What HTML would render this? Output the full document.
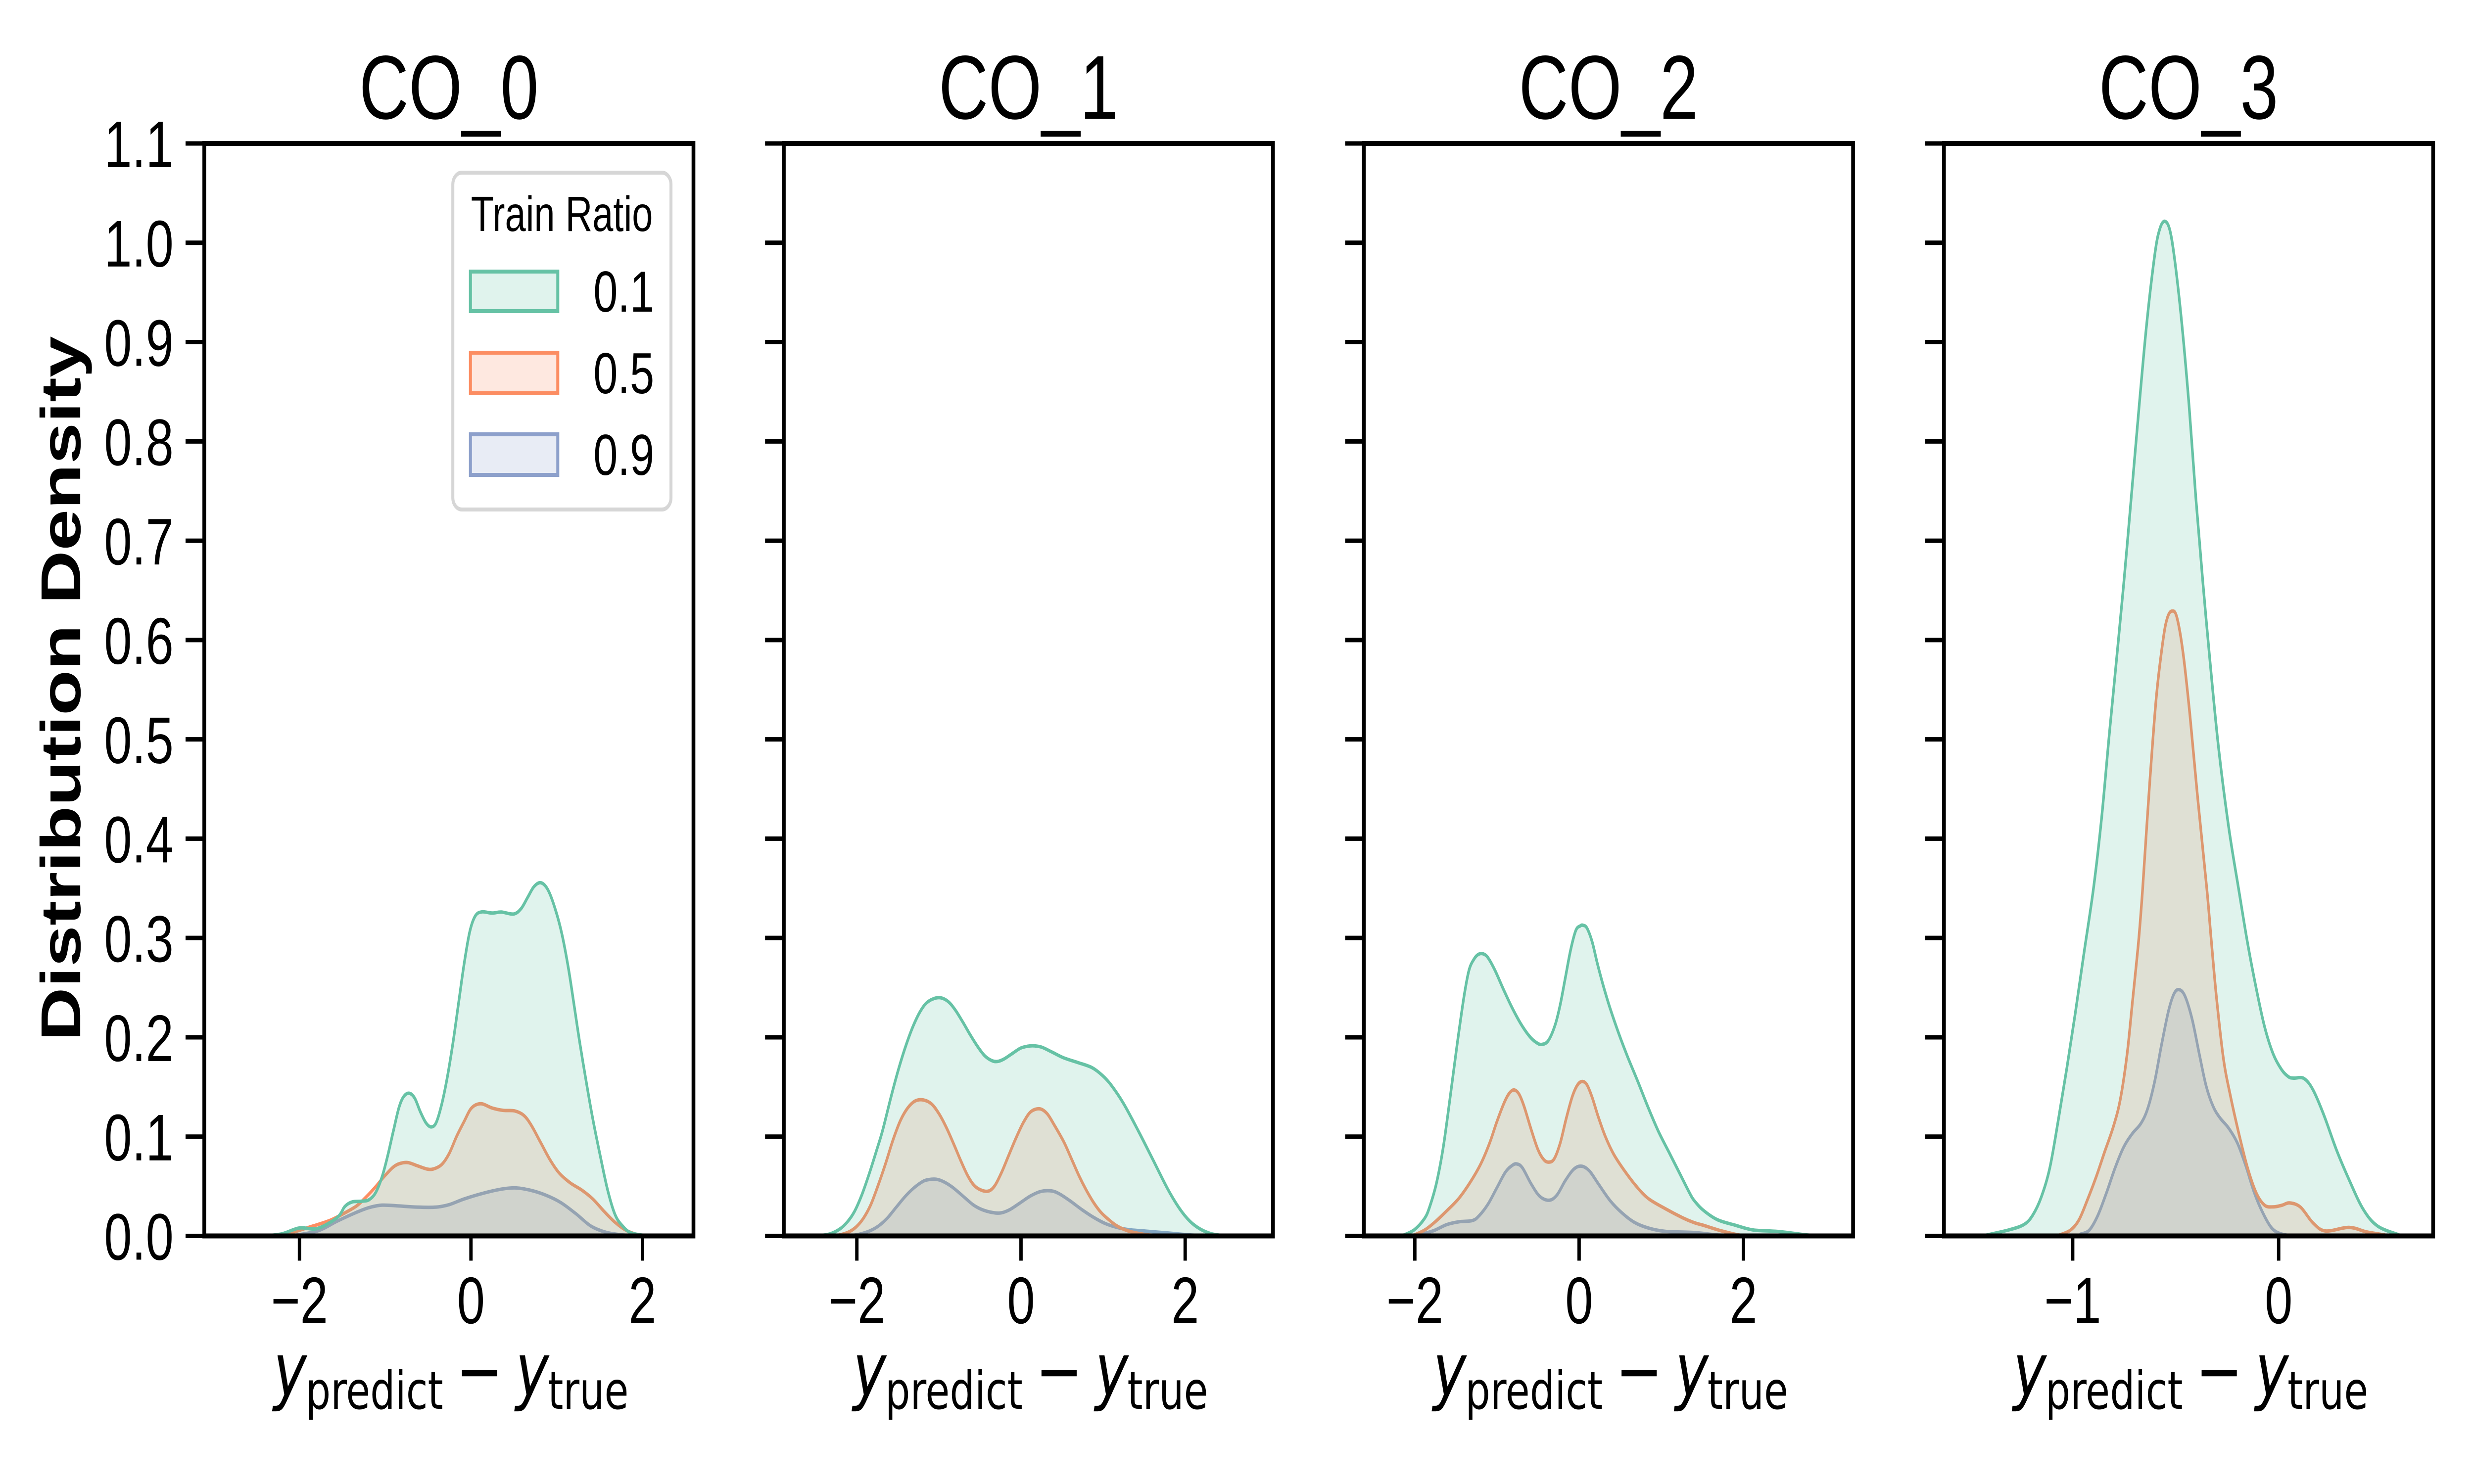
<!DOCTYPE html>
<html lang="en">
<head>
<meta charset="utf-8">
<title>Distribution Density by CO</title>
<style>
html,body{margin:0;padding:0;background:#fff;width:100%;height:100%;overflow:hidden;}
svg{display:block;width:100vw;height:100vh;}
text{fill:#000;font-family:"Liberation Sans",Arial,sans-serif;}
.math{font-family:"DejaVu Sans",sans-serif;}
</style>
</head>
<body>
<svg id="figure" xmlns="http://www.w3.org/2000/svg" viewBox="0 0 6600 3000" preserveAspectRatio="none">
  <rect x="0" y="0" width="6600" height="3000" fill="#fff"/>
  <g id="panels"></g>
  <text transform="translate(214,1392) rotate(-90)" text-anchor="middle" font-size="150" font-weight="bold">Distribution Density</text>
  <g>
    <rect x="1208" y="349" width="582" height="681" rx="24" ry="24" fill="#fff" stroke="#d6d6d6" stroke-width="8"/>
    <text x="1499" y="467" text-anchor="middle" font-size="100">Train Ratio</text>
    <rect x="1255" y="549" width="233" height="80" fill="#66c2a5" fill-opacity="0.2" stroke="#66c2a5" stroke-width="8"/>
    <text x="1583" y="630" font-size="116.7">0.1</text>
    <rect x="1255" y="713" width="233" height="82" fill="#fc8d62" fill-opacity="0.2" stroke="#fc8d62" stroke-width="8"/>
    <text x="1583" y="795" font-size="116.7">0.5</text>
    <rect x="1255" y="878" width="233" height="82" fill="#8da0cb" fill-opacity="0.2" stroke="#8da0cb" stroke-width="8"/>
    <text x="1583" y="960" font-size="116.7">0.9</text>
  </g>
</svg>
<script>
// ---------- data (x = prediction error, y = density) ----------
const yTickLabels = ["0.0","0.1","0.2","0.3","0.4","0.5","0.6","0.7","0.8","0.9","1.0","1.1"];
const yTickValues = [0,0.1,0.2,0.3,0.4,0.5,0.6,0.7,0.8,0.9,1.0,1.1];
const panelTitles = ["CO_0","CO_1","CO_2","CO_3"];
const seriesRatios = ["0.1","0.5","0.9"];
const seriesColors = ["#66c2a5","#fc8d62","#8da0cb"];
const xTicks012 = [-2,0,2];
const xTicks3 = [-1,0];

// CO_0
const co0X01 = [-2.42,-2.21,-2.00,-1.79,-1.56,-1.47,-1.385,-1.276,-1.19,-1.113,-1.037,-0.972,-0.906,-0.841,-0.787,-0.722,-0.656,-0.591,-0.526,-0.465,-0.406,-0.341,-0.276,-0.21,-0.145,-0.08,-0.015,0.05,0.127,0.246,0.355,0.497,0.584,0.66,0.736,0.817,0.9,0.986,1.062,1.138,1.204,1.269,1.345,1.421,1.508,1.595,1.682,1.769,1.852,1.98,2.14];
const co0Y01 = [0,0.002,0.008,0.0075,0.0186,0.0297,0.0342,0.0349,0.0364,0.0434,0.0595,0.0805,0.1053,0.1288,0.14,0.1437,0.1387,0.1251,0.114,0.1098,0.114,0.1326,0.1598,0.1945,0.2341,0.2738,0.306,0.3221,0.3263,0.3251,0.3261,0.3241,0.3295,0.3407,0.3518,0.3556,0.3481,0.3283,0.3035,0.2688,0.2317,0.1945,0.1549,0.1177,0.0805,0.0458,0.0211,0.0099,0.0037,0.001,0];
const co0X05 = [-2.21,-1.89,-1.68,-1.56,-1.342,-1.233,-1.124,-1.015,-0.906,-0.82,-0.732,-0.624,-0.515,-0.439,-0.341,-0.254,-0.167,-0.08,0.007,0.116,0.247,0.377,0.508,0.616,0.703,0.812,0.921,1.03,1.16,1.29,1.421,1.552,1.682,1.813,1.98];
const co0Y05 = [0,0.0087,0.0145,0.0191,0.0297,0.0384,0.0483,0.0595,0.0694,0.0731,0.0738,0.0706,0.0674,0.0674,0.0719,0.083,0.1003,0.1152,0.1288,0.1331,0.1288,0.1264,0.1259,0.1214,0.1115,0.0942,0.0768,0.0632,0.0533,0.0463,0.0372,0.0248,0.0136,0.0055,0];
const co0X09 = [-2.10,-1.79,-1.56,-1.342,-1.19,-1.037,-0.841,-0.624,-0.406,-0.254,-0.08,0.138,0.355,0.529,0.703,0.877,1.051,1.225,1.399,1.573,1.747,1.92];
const co0Y09 = [0,0.005,0.0149,0.0235,0.0285,0.031,0.0302,0.029,0.029,0.0315,0.0372,0.0429,0.0471,0.0483,0.0458,0.0409,0.0334,0.0223,0.0099,0.0037,0.0012,0];

// CO_1
const co1X01 = [-2.48,-2.33,-2.209,-2.119,-2.029,-1.939,-1.848,-1.758,-1.686,-1.578,-1.487,-1.397,-1.307,-1.217,-1.126,-1,-0.892,-0.801,-0.711,-0.621,-0.531,-0.44,-0.35,-0.283,-0.206,-0.116,-0.007,0.083,0.155,0.253,0.379,0.523,0.704,0.866,0.993,1.101,1.245,1.426,1.607,1.787,1.931,2.058,2.184,2.329,2.509];
const co1Y01 = [0,0.002,0.0069,0.0138,0.0246,0.0414,0.063,0.0866,0.1063,0.1418,0.1694,0.193,0.2127,0.2275,0.2363,0.2399,0.2363,0.2275,0.2156,0.2028,0.191,0.1812,0.1763,0.1757,0.1782,0.1831,0.189,0.191,0.1914,0.19,0.1851,0.1792,0.1743,0.1694,0.1615,0.1516,0.1339,0.1063,0.0768,0.0473,0.0276,0.0148,0.0069,0.002,0];
const co1X05 = [-2.30,-2.209,-2.101,-2.011,-1.921,-1.83,-1.74,-1.65,-1.56,-1.469,-1.379,-1.289,-1.19,-1.09,-1,-0.91,-0.82,-0.729,-0.639,-0.549,-0.422,-0.332,-0.242,-0.152,-0.061,0.029,0.119,0.227,0.318,0.408,0.523,0.614,0.704,0.794,0.885,0.975,1.065,1.155,1.245,1.354,1.516,1.697];
const co1Y05 = [0,0.001,0.0039,0.0089,0.0177,0.0315,0.0512,0.0729,0.0965,0.1162,0.129,0.1359,0.1369,0.1329,0.1231,0.1093,0.0926,0.0748,0.0591,0.0492,0.0449,0.0492,0.063,0.0807,0.0985,0.1142,0.125,0.128,0.1231,0.1113,0.0945,0.0778,0.061,0.0463,0.0335,0.0236,0.0167,0.0108,0.0069,0.0039,0.0014,0];
const co1X09 = [-2.101,-1.975,-1.848,-1.74,-1.632,-1.523,-1.415,-1.307,-1.199,-1.126,-1.036,-0.946,-0.838,-0.711,-0.585,-0.477,-0.35,-0.242,-0.134,-0.007,0.119,0.245,0.372,0.469,0.596,0.74,0.885,1.029,1.173,1.318,1.516,1.787,2.058,2.329];
const co1Y09 = [0,0.0016,0.0049,0.0098,0.0177,0.0286,0.0394,0.0482,0.0547,0.0567,0.0571,0.0547,0.0492,0.0404,0.0315,0.0266,0.0236,0.0232,0.0266,0.0335,0.0404,0.0449,0.0453,0.0423,0.0354,0.0266,0.0187,0.0124,0.0085,0.0063,0.0049,0.003,0.001,0];

// CO_2
const co2X01 = [-2.16,-2.01,-1.885,-1.822,-1.738,-1.654,-1.57,-1.486,-1.403,-1.34,-1.277,-1.224,-1.168,-1.109,-1.025,-0.92,-0.816,-0.711,-0.606,-0.522,-0.455,-0.375,-0.291,-0.229,-0.166,-0.103,-0.04,0.013,0.048,0.096,0.159,0.222,0.296,0.379,0.484,0.589,0.715,0.841,0.966,1.092,1.218,1.344,1.403,1.51,1.68,1.90,2.12,2.42,2.77,2.95];
const co2Y01 = [0,0.006,0.0172,0.0286,0.0526,0.0892,0.1395,0.1921,0.2401,0.2676,0.279,0.2836,0.284,0.2801,0.2676,0.2481,0.2298,0.2138,0.2012,0.1948,0.1928,0.1967,0.2127,0.2332,0.2607,0.2881,0.3076,0.3121,0.3128,0.3099,0.2961,0.2744,0.2515,0.2287,0.2035,0.1807,0.1555,0.1292,0.1052,0.0846,0.064,0.0434,0.0354,0.026,0.0165,0.0108,0.006,0.0045,0.001,0];
const co2X05 = [-2.03,-1.885,-1.759,-1.612,-1.465,-1.319,-1.193,-1.088,-1.004,-0.92,-0.857,-0.795,-0.732,-0.669,-0.585,-0.501,-0.428,-0.365,-0.302,-0.229,-0.155,-0.082,-0.019,0.04,0.096,0.159,0.233,0.317,0.421,0.547,0.694,0.841,1.05,1.26,1.403,1.51,1.72,1.94,2.07];
const co2Y05 = [0,0.0057,0.0137,0.0252,0.0377,0.0549,0.0732,0.0938,0.1143,0.1326,0.1429,0.147,0.1429,0.1303,0.1075,0.0869,0.0766,0.0743,0.0778,0.0938,0.1189,0.1406,0.1521,0.1555,0.1521,0.1395,0.12,0.1006,0.0823,0.0663,0.0503,0.0377,0.0274,0.0183,0.0133,0.0108,0.0054,0.001,0];
const co2X09 = [-1.95,-1.885,-1.759,-1.612,-1.465,-1.298,-1.214,-1.109,-1.004,-0.899,-0.816,-0.759,-0.69,-0.585,-0.48,-0.365,-0.27,-0.166,-0.061,0.034,0.128,0.233,0.379,0.526,0.673,0.841,1.05,1.403,1.68,1.90];
const co2Y09 = [0,0.0023,0.0057,0.0114,0.0142,0.0155,0.0206,0.032,0.048,0.064,0.0709,0.0725,0.0686,0.0526,0.04,0.0359,0.0412,0.056,0.0675,0.0702,0.0652,0.0526,0.0354,0.0229,0.0137,0.008,0.0046,0.0034,0.001,0];

// CO_3
const co3X01 = [-1.416,-1.311,-1.237,-1.195,-1.153,-1.111,-1.07,-1.028,-0.987,-0.945,-0.899,-0.86,-0.82,-0.753,-0.694,-0.644,-0.602,-0.577,-0.552,-0.527,-0.502,-0.469,-0.435,-0.402,-0.368,-0.335,-0.293,-0.243,-0.193,-0.151,-0.109,-0.068,-0.026,0.016,0.049,0.073,0.123,0.167,0.219,0.28,0.341,0.41,0.48,0.584];
const co3Y01 = [0.001,0.006,0.0114,0.0206,0.0389,0.0686,0.1166,0.1695,0.225,0.285,0.35,0.42,0.51,0.655,0.796,0.9116,0.9873,1.014,1.0216,1.0117,0.9783,0.9161,0.8359,0.7428,0.6581,0.5824,0.4938,0.412,0.3477,0.295,0.2493,0.2104,0.1829,0.1669,0.1601,0.1589,0.1585,0.147,0.122,0.087,0.057,0.027,0.01,0.001];
const co3X05 = [-1.062,-1.012,-0.97,-0.928,-0.886,-0.845,-0.803,-0.769,-0.736,-0.711,-0.68,-0.661,-0.627,-0.594,-0.561,-0.54,-0.517,-0.494,-0.464,-0.431,-0.393,-0.348,-0.327,-0.302,-0.268,-0.235,-0.193,-0.151,-0.109,-0.068,-0.026,0.016,0.053,0.106,0.167,0.228,0.341,0.428,0.515];
const co3Y05 = [0.0011,0.0057,0.016,0.0366,0.0595,0.0846,0.1098,0.1372,0.1829,0.2332,0.2973,0.3478,0.4537,0.5426,0.6003,0.6227,0.6292,0.6227,0.5869,0.5246,0.4405,0.3478,0.2973,0.2401,0.1784,0.1418,0.1029,0.0686,0.0434,0.0309,0.0293,0.0309,0.0332,0.029,0.013,0.005,0.0086,0.004,0.001];
const co3X09 = [-0.962,-0.92,-0.878,-0.836,-0.794,-0.753,-0.711,-0.669,-0.636,-0.602,-0.569,-0.535,-0.506,-0.479,-0.452,-0.419,-0.385,-0.352,-0.318,-0.285,-0.243,-0.201,-0.16,-0.118,-0.076,-0.034,0.008,0.063];
const co3Y09 = [0.0018,0.0057,0.0206,0.0434,0.0686,0.0892,0.1029,0.1132,0.1281,0.1555,0.1921,0.2264,0.2447,0.2477,0.2401,0.2172,0.1829,0.1509,0.1303,0.1189,0.1086,0.0938,0.0709,0.0434,0.0229,0.008,0.0023,0];

const seriesX = [[co0X01,co0X05,co0X09],[co1X01,co1X05,co1X09],[co2X01,co2X05,co2X09],[co3X01,co3X05,co3X09]];
const seriesY = [[co0Y01,co0Y05,co0Y09],[co1Y01,co1Y05,co1Y09],[co2Y01,co2Y05,co2Y09],[co3Y01,co3Y05,co3Y09]];
const panelXTicks = [xTicks012,xTicks012,xTicks012,xTicks3];
const panelXMin = [-3.11,-2.89,-2.62,-1.625];
const panelXMax = [2.595,3.07,3.335,0.75];

// ---------- layout ----------
const NS = "http://www.w3.org/2000/svg";
const axesLeft = [545,2091,3638.5,5186];
const axesWidth = 1305;
const axesTop = 290;
const axesBottom = 2498.5;
const yMax = 1.1;
const spineW = 10;
const tickW = 9;
const tickLen = 50;

function xScale(p, v){ return axesLeft[p] + (v - panelXMin[p]) / (panelXMax[p] - panelXMin[p]) * axesWidth; }
function yScale(v){ return axesBottom - v / yMax * (axesBottom - axesTop); }

function make(tag, attrs, parent){
  const el = document.createElementNS(NS, tag);
  for (const k in attrs) el.setAttribute(k, attrs[k]);
  parent.appendChild(el);
  return el;
}

function curvePath(p, xs, ys){
  const pts = xs.map((x, i) => [xScale(p, x), yScale(ys[i])]);
  let d = "M" + pts[0][0].toFixed(1) + " " + yScale(0).toFixed(1) + "L" + pts[0][0].toFixed(1) + " " + pts[0][1].toFixed(1);
  for (let i = 0; i < pts.length - 1; i++){
    const p0 = pts[Math.max(i - 1, 0)], p1 = pts[i], p2 = pts[i + 1], p3 = pts[Math.min(i + 2, pts.length - 1)];
    const c1x = p1[0] + (p2[0] - p0[0]) / 6, c1y = p1[1] + (p2[1] - p0[1]) / 6;
    const c2x = p2[0] - (p3[0] - p1[0]) / 6, c2y = p2[1] - (p3[1] - p1[1]) / 6;
    d += "C" + c1x.toFixed(1) + " " + c1y.toFixed(1) + " " + c2x.toFixed(1) + " " + c2y.toFixed(1) + " " + p2[0].toFixed(1) + " " + p2[1].toFixed(1);
  }
  d += "L" + pts[pts.length - 1][0].toFixed(1) + " " + yScale(0).toFixed(1) + "Z";
  return d;
}

const root = document.getElementById("panels");
const defs = make("defs", {}, root);

panelTitles.forEach(function(title, p){
  const left = axesLeft[p], cx = left + axesWidth / 2;

  const g = make("g", {}, root);
  
  

  const clip = make("clipPath", {id: "clip" + p}, defs);
  make("rect", {x: left, y: axesTop, width: axesWidth, height: axesBottom - axesTop}, clip);

  // series are painted last-to-first so the 0.1 series lies on top
  const marks = make("g", {"clip-path": "url(#clip" + p + ")"}, g);
  for (let s = seriesRatios.length - 1; s >= 0; s--){
    const curve = make("path", {
      d: curvePath(p, seriesX[p][s], seriesY[p][s]),
      fill: seriesColors[s], "fill-opacity": 0.2,
      stroke: seriesColors[s], "stroke-width": 7, "stroke-linejoin": "round"
    }, marks);
    
    
  }

  // y ticks
  yTickValues.forEach(function(v, i){
    const y = yScale(v);
    const t = make("line", {x1: left - tickLen, x2: left, y1: y, y2: y, stroke: "#000", "stroke-width": tickW}, g);
    
    
    if (p === 0){
      const lab = make("text", {x: 463, y: y + 48, "text-anchor": "end", "font-size": 133.3}, g);
      lab.textContent = yTickLabels[i];
      
      
    }
  });

  // x ticks
  panelXTicks[p].forEach(function(v){
    const x = xScale(p, v);
    const t = make("line", {x1: x, x2: x, y1: axesBottom, y2: axesBottom + tickLen, stroke: "#000", "stroke-width": tickW}, g);
    
    
    const lab = make("text", {x: x, y: 2675, "text-anchor": "middle", "font-size": 133.3}, g);
    lab.textContent = (v < 0 ? "\u2212" + Math.abs(v) : String(v));
    
    
  });

  // frame
  const frame = make("rect", {x: left, y: axesTop, width: axesWidth, height: axesBottom - axesTop, fill: "none", stroke: "#000", "stroke-width": spineW, "stroke-linejoin": "miter"}, g);
  
  

  // title
  const tt = make("text", {x: cx, y: 240, "text-anchor": "middle", "font-size": 183.3}, g);
  tt.textContent = title;
  
  

  // x label: y_predict - y_true
  const xl = make("g", {}, g);
  
  
  const a = make("text", {x: cx - 468, y: 2822, "font-size": 150, "font-style": "italic", "class": "math"}, xl);
  a.textContent = "y";
  const b = make("text", {x: cx - 382, y: 2848, "font-size": 105, "class": "math"}, xl);
  b.textContent = "predict";
  const c = make("text", {x: cx + 19, y: 2823, "font-size": 150, "class": "math"}, xl);
  c.textContent = "\u2212";
  const d = make("text", {x: cx + 178, y: 2822, "font-size": 150, "font-style": "italic", "class": "math"}, xl);
  d.textContent = "y";
  const e = make("text", {x: cx + 264, y: 2848, "font-size": 105, "class": "math"}, xl);
  e.textContent = "true";
});
</script>
</body>
</html>
